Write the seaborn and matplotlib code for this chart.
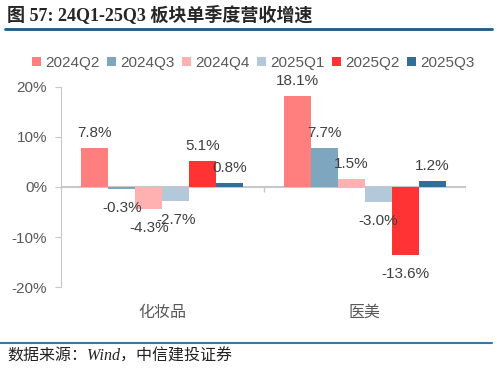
import pandas as pd
import seaborn as sns
import matplotlib.pyplot as plt
from matplotlib.lines import Line2D

categories = ['化妆品', '医美']
quarters = ['2024Q2', '2024Q3', '2024Q4', '2025Q1', '2025Q2', '2025Q3']
q24q2 = [7.8, 18.1]
q24q3 = [-0.3, 7.7]
q24q4 = [-4.3, 1.5]
q25q1 = [-2.7, -3.0]
q25q2 = [5.1, -13.6]
q25q3 = [0.8, 1.2]
colors = ['#FF7F7F', '#7FA6BF', '#FFB0B0', '#B3C9D9', '#FF3333', '#336E96']

series = [q24q2, q24q3, q24q4, q25q1, q25q2, q25q3]
rows = []
for q, vals in zip(quarters, series):
    for c, v in zip(categories, vals):
        rows.append({'cat': c, 'quarter': q, 'value': v})
df = pd.DataFrame(rows)

sns.set_style('white')
plt.rcParams['font.family'] = ['Liberation Sans', 'Noto Sans CJK SC']
gray = '#595959'

fig = plt.figure(figsize=(4.97, 3.74), dpi=100)
ax = fig.add_axes([0.123, 0.2326, 0.815, 0.5348])
sns.barplot(data=df, x='cat', y='value', hue='quarter', order=categories,
            hue_order=quarters, palette=colors, width=0.8, saturation=1,
            linewidth=0, ax=ax)

# value labels
for cont in ax.containers:
    for bar in cont:
        h = bar.get_height()
        x = bar.get_x() + bar.get_width() / 2
        off = 11 if h >= 0 else -14
        ax.annotate(f'{h:.1f}%', (x, h), xytext=(0, off), textcoords='offset points',
                    ha='center', va='center', fontsize=11, color='#404040')

ax.set_ylim(-20, 20)
ax.set_xlim(-0.5, 1.5)
ax.set_yticks([-20, -10, 0, 10, 20])
ax.set_yticklabels([f'{t}%' for t in [-20, -10, 0, 10, 20]])
ax.axhline(0, color='#C8C8C8', lw=1.5, zorder=0)
ax.vlines([0.5, 1.5], -0.9, 0, color='#C8C8C8', lw=1)
ax.set_xlabel('')
ax.set_ylabel('')
for s in ['top', 'right', 'bottom']:
    ax.spines[s].set_visible(False)
ax.spines['left'].set_color('#C8C8C8')
ax.tick_params(axis='y', left=True, length=4, color='#C8C8C8', labelsize=11,
               labelcolor=gray, pad=6)
ax.tick_params(axis='x', length=0, labelsize=11.5, labelcolor=gray, pad=13)

handles, labels = ax.get_legend_handles_labels()
ax.legend_.remove()
fig.legend(handles, labels, loc='center', bbox_to_anchor=(0.51, 0.832), ncol=6,
           frameon=False, fontsize=11, handlelength=0.55, handleheight=0.55,
           handletextpad=0.3, columnspacing=0.5, labelcolor=gray)

fig.text(0.014, 1 - 15 / 374, '图 57: 24Q1-25Q3 板块单季度营收增速', fontsize=13,
         fontweight='bold', va='center', ha='left',
         family=['Liberation Serif', 'Noto Sans CJK SC'])
fig.add_artist(Line2D([5 / 497, 492 / 497], [1 - 29 / 374] * 2, color='#1B5A87', lw=2))
fig.add_artist(Line2D([0, 492 / 497], [1 - 343 / 374] * 2, color='#3B78A0', lw=1.5))
fig.text(0.014, 1 - 357 / 374, '数据来源：Wind，中信建投证券', fontsize=11.5, style='italic',
         va='center', ha='left', color='#222222',
         family=['Liberation Serif', 'Noto Sans CJK SC'])

fig.savefig('out.png', dpi=100)
